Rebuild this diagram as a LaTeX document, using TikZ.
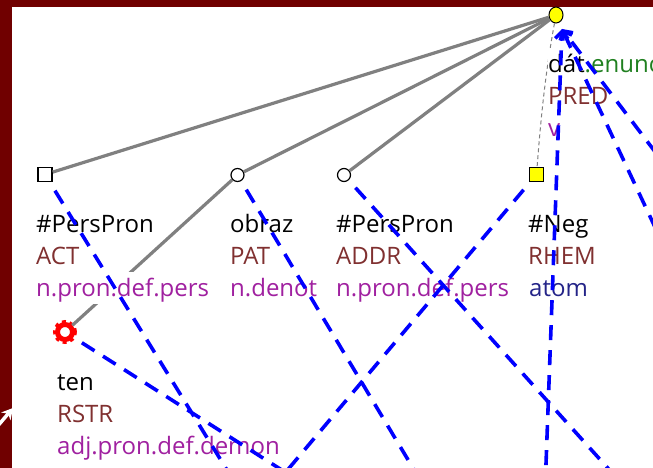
\documentclass[tikz,border=0pt]{standalone}
\usepackage{fontspec}
\setmainfont{Open Sans}
\usetikzlibrary{arrows.meta,shapes.geometric}
\definecolor{framered}{RGB}{112,0,0}
\definecolor{edgegray}{RGB}{128,128,128}
\definecolor{lemmacol}{RGB}{0,0,0}
\definecolor{funccol}{RGB}{128,48,48}
\definecolor{semcol}{RGB}{160,32,160}
\definecolor{atomcol}{RGB}{36,36,136}
\definecolor{enunccol}{RGB}{32,128,32}
\definecolor{nodeyellow}{RGB}{255,255,0}
\definecolor{alignblue}{RGB}{0,0,255}
\begin{document}
\begin{tikzpicture}[x=1pt,y=-1pt,
  lbl/.style={anchor=base west, inner sep=0pt, fill=white, text height=24pt, text depth=8pt,
              font=\fontsize{24}{32}\selectfont},
  lemma/.style={lbl, text=lemmacol},
  func/.style={lbl, text=funccol},
  sem/.style={lbl, text=semcol},
  sqnode/.style={draw=black, line width=1.3pt, fill=white, rectangle, minimum size=14pt, inner sep=0pt},
  cnode/.style={draw=black, line width=1.2pt, fill=white, circle, minimum size=13pt, inner sep=0pt},
  edge/.style={draw=edgegray, line width=3.2pt},
  hidden/.style={draw=edgegray, line width=1pt, dash pattern=on 4pt off 3pt},
  alignline/.style={draw=alignblue, line width=3.6pt, dash pattern=on 15pt off 10pt, dash phase=15pt},
  alignarrow/.style={alignline, -{Straight Barb[length=7pt,width=13pt]}}
]
\useasboundingbox (0,0) rectangle (653,468);
\clip (0,0) rectangle (653,468);
% frame
\fill[framered] (0,0) rectangle (653,468);
\fill[white] (12,7) rectangle (653,468);

% nodes
\node[draw=black, line width=1pt, fill=nodeyellow, ellipse, minimum width=14pt, minimum height=16pt, inner sep=0pt] (pred) at (556,15) {};
\node[sqnode] (act) at (45,174.5) {};
\node[cnode] (obraz) at (237.5,175) {};
\node[cnode] (addr) at (344,175) {};
\node[sqnode, fill=nodeyellow] (neg) at (536.5,174.5) {};
\node[circle, draw=red, line width=5pt, fill=white, minimum size=15pt, inner sep=0pt] (ten) at (65,332) {};
\draw[red, line width=3pt, dash pattern=on 3.9pt off 3.9pt] (ten.center) circle (10.5pt);

% tree edges
\draw[edge] (pred) -- (act);
\draw[edge] (pred) -- (obraz);
\draw[edge] (pred) -- (addr);
\draw[edge] (obraz) -- (ten);
\draw[hidden] (pred) .. controls (544,80) and (540,130) .. (neg);

% labels
\node[lemma] (l1) at (36,232) {\#PersPron};
\node[func]  (f1) at (36,264) {ACT};
\node[sem]   (s1) at (36,296) {n.pron.def.pers};

\node[lemma] (l2) at (230,232) {obraz};
\node[func]  (f2) at (230,264) {PAT};
\node[sem]   (s2) at (230,296) {n.denot};

\node[lemma] (l3) at (336,232) {\#PersPron};
\node[func]  (f3) at (336,264) {ADDR};
\node[sem]   (s3) at (336,296) {n.pron.def.pers};

\node[lemma] (l4) at (528,232) {\#Neg};
\node[func]  (f4) at (528,264) {RHEM};
\node[lbl, text=atomcol] (s4) at (529,296) {atom};

\node[lemma] (l5) at (548,73) {dát\textcolor{enunccol}{.enunc}};
\node[func]  (f5) at (548,105) {PRED};
\node[sem]   (s5) at (548,137) {v};

\node[lemma] (l6) at (57,390) {ten};
\node[func]  (f6) at (57,422) {RSTR};
\node[sem]   (s6) at (57,454) {adj.pron.def.demon};

% alignment links (other ends outside the view)
\coordinate (bact) at (307,600);
\coordinate (bobraz) at (492,600);
\coordinate (baddr) at (726.5,600);
\coordinate (bneg) at (178,600);
\coordinate (bten) at (486,600);
\coordinate (predin) at (562,29);
\coordinate (bv) at (541,600);
\coordinate (bb) at (830,600);
\coordinate (ba) at (919,500);

\draw[alignline] (act) -- (bact);
\draw[alignline] (obraz) -- (bobraz);
\draw[alignline] (addr) -- (baddr);
\draw[alignline] (neg) -- (bneg);
\draw[alignline] (ten) -- (bten);
\draw[alignarrow] (bv) -- (predin);
\draw[alignarrow] (bb) -- (predin);
\draw[alignarrow] (ba) -- (predin);

% cursor arrow on the frame
\coordinate (cura) at (-4,428);
\coordinate (curb) at (13,408);
\draw[white, line width=3.5pt, -{Stealth[length=11pt,width=12pt]}] (cura) -- (curb);
\end{tikzpicture}
\end{document}
